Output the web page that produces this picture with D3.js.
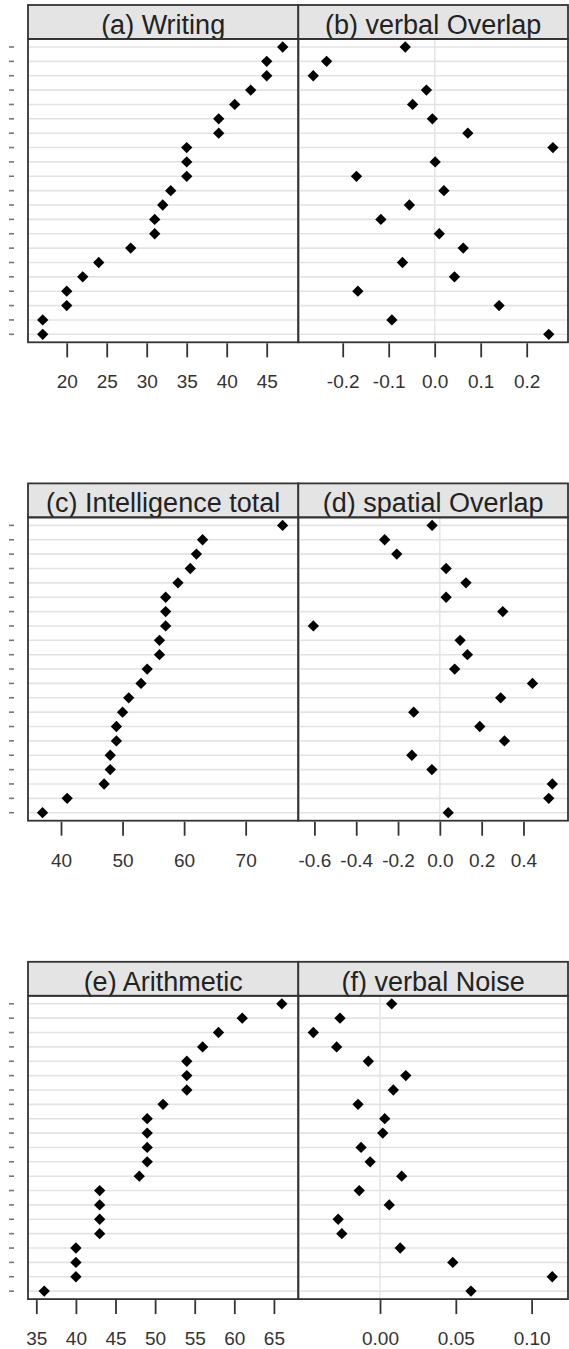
<!DOCTYPE html>
<html><head><meta charset="utf-8">
<script src="https://cdn.jsdelivr.net/npm/d3@7"></script>
<style>
body{margin:0;background:#fff}
svg{display:block}
text{font-family:"Liberation Sans",Arial,sans-serif}
</style>
</head><body>
<script>
// ---- data ----
const rowIds = d3.range(21);
const titles = ["(a) Writing","(b) verbal Overlap","(c) Intelligence total","(d) spatial Overlap","(e) Arithmetic","(f) verbal Noise"];
const writing = [47,45,45,43,41,39,39,35,35,35,33,32,31,31,28,24,22,20,20,17,17];
const verbalOverlap = [-0.064,-0.235,-0.264,-0.018,-0.048,-0.005,0.072,0.257,0.001,-0.170,0.020,-0.055,-0.117,0.010,0.062,-0.070,0.043,-0.167,0.140,-0.093,0.248];
const intelligence = [76,63,62,61,59,57,57,57,56,56,54,53,51,50,49,49,48,48,47,41,37];
const spatialOverlap = [-0.037,-0.264,-0.206,0.030,0.125,0.030,0.301,-0.605,0.097,0.132,0.071,0.443,0.291,-0.125,0.191,0.309,-0.134,-0.038,0.538,0.521,0.040];
const arithmetic = [66,61,58,56,54,54,54,51,49,49,49,49,48,43,43,43,43,40,40,40,36];
const verbalNoise = [0.0077,-0.0264,-0.044,-0.0286,-0.0077,0.017,0.0088,-0.0145,0.0031,0.0018,-0.0125,-0.0065,0.0143,-0.0137,0.0061,-0.0276,-0.0252,0.0133,0.048,0.1136,0.060];
const ticksA = [20,25,30,35,40,45];
const ticksB = [-0.2,-0.1,0,0.1,0.2];
const ticksC = [40,50,60,70];
const ticksD = [-0.6,-0.4,-0.2,0,0.2,0.4];
const ticksE = [35,40,45,50,55,60,65];
const ticksF = [0,0.05,0.10];
const domA = [15.16,48.95], domB = [-0.2965,0.2898], domC = [34.64,78.55];
const domD = [-0.677,0.613], domE = [33.95,68.08], domF = [-0.0539,0.124];

const loc = d3.formatLocale({decimal:".", thousands:",", grouping:[3], currency:["",""], minus:"-"});

const panels = [
  {title:titles[0], values:writing, ticks:ticksA, fmt:loc.format("d"), dom:domA, col:0, row:0, zero:false},
  {title:titles[1], values:verbalOverlap, ticks:ticksB, fmt:loc.format(".1f"), dom:domB, col:1, row:0, zero:true},
  {title:titles[2], values:intelligence, ticks:ticksC, fmt:loc.format("d"), dom:domC, col:0, row:1, zero:false},
  {title:titles[3], values:spatialOverlap, ticks:ticksD, fmt:loc.format(".1f"), dom:domD, col:1, row:1, zero:true},
  {title:titles[4], values:arithmetic, ticks:ticksE, fmt:loc.format("d"), dom:domE, col:0, row:2, zero:false},
  {title:titles[5], values:verbalNoise, ticks:ticksF, fmt:loc.format(".2f"), dom:domF, col:1, row:2, zero:true}
];

// ---- layout ----
const W = 569, H = 1349;
const colX = [[28,298.3],[298.3,568]];
const rowTop0 = 5, rowStep = 478.4, stripH = 34, panelH = 337.3;
const border = "#333";

const svg = d3.select("body").append("svg").attr("width",W).attr("height",H);
svg.append("rect").attr("width",W).attr("height",H).attr("fill","#fff");

const diamond = d3.symbol().type(d3.symbolSquare).size(64);

panels.forEach(p => {
  const top = rowTop0 + p.row*rowStep;
  const pTop = top + stripH, pBot = top + panelH;
  const [x0,x1] = colX[p.col];
  const x = d3.scaleLinear().domain(p.dom).range([x0,x1]);
  const y = d3.scalePoint().domain(rowIds).range([pTop,pBot]).padding(0.556);
  const g = svg.append("g");

  // grid lines
  g.selectAll("line.grid").data(rowIds).join("line")
    .attr("x1",x0).attr("x2",x1).attr("y1",d=>y(d)).attr("y2",d=>y(d))
    .attr("stroke","#e3e3e3").attr("stroke-width",1.6);

  if (p.zero) {
    g.append("line").attr("x1",x(0)).attr("x2",x(0)).attr("y1",pTop).attr("y2",pBot)
      .attr("stroke","#e3e3e3").attr("stroke-width",1.4);
  }

  // left row dashes
  if (p.col === 0) {
    svg.append("g").selectAll("line").data(rowIds).join("line")
      .attr("x1",9).attr("x2",14).attr("y1",d=>y(d)).attr("y2",d=>y(d))
      .attr("stroke","#777").attr("stroke-width",1.6);
  }

  // points
  g.selectAll("path.pt").data(p.values).join("path")
    .attr("d",diamond)
    .attr("transform",(v,i)=>`translate(${x(v)},${y(i)}) rotate(45)`)
    .attr("fill","#000");

  // strip
  g.append("rect").attr("x",x0).attr("y",top).attr("width",x1-x0).attr("height",stripH)
    .attr("fill","#e4e4e4").attr("stroke",border).attr("stroke-width",1.8);
  g.append("text").attr("x",(x0+x1)/2).attr("y",top+29).attr("text-anchor","middle")
    .attr("font-size",27).attr("fill","#222").text(p.title);

  // panel border
  g.append("rect").attr("x",x0).attr("y",pTop).attr("width",x1-x0).attr("height",pBot-pTop)
    .attr("fill","none").attr("stroke",border).attr("stroke-width",1.8);

  // x axis
  const ax = svg.append("g").attr("transform",`translate(0,${pBot+1})`)
    .call(d3.axisBottom(x).tickValues(p.ticks).tickFormat(p.fmt).tickSize(14).tickSizeOuter(0));
  ax.select(".domain").remove();
  ax.selectAll(".tick line").attr("stroke",border).attr("stroke-width",1.8);
  ax.selectAll(".tick text").attr("y",45).attr("dy",null).attr("font-size",19)
    .attr("fill","#333").attr("font-family","'Liberation Sans',Arial,sans-serif");
});
</script>
</body></html>
